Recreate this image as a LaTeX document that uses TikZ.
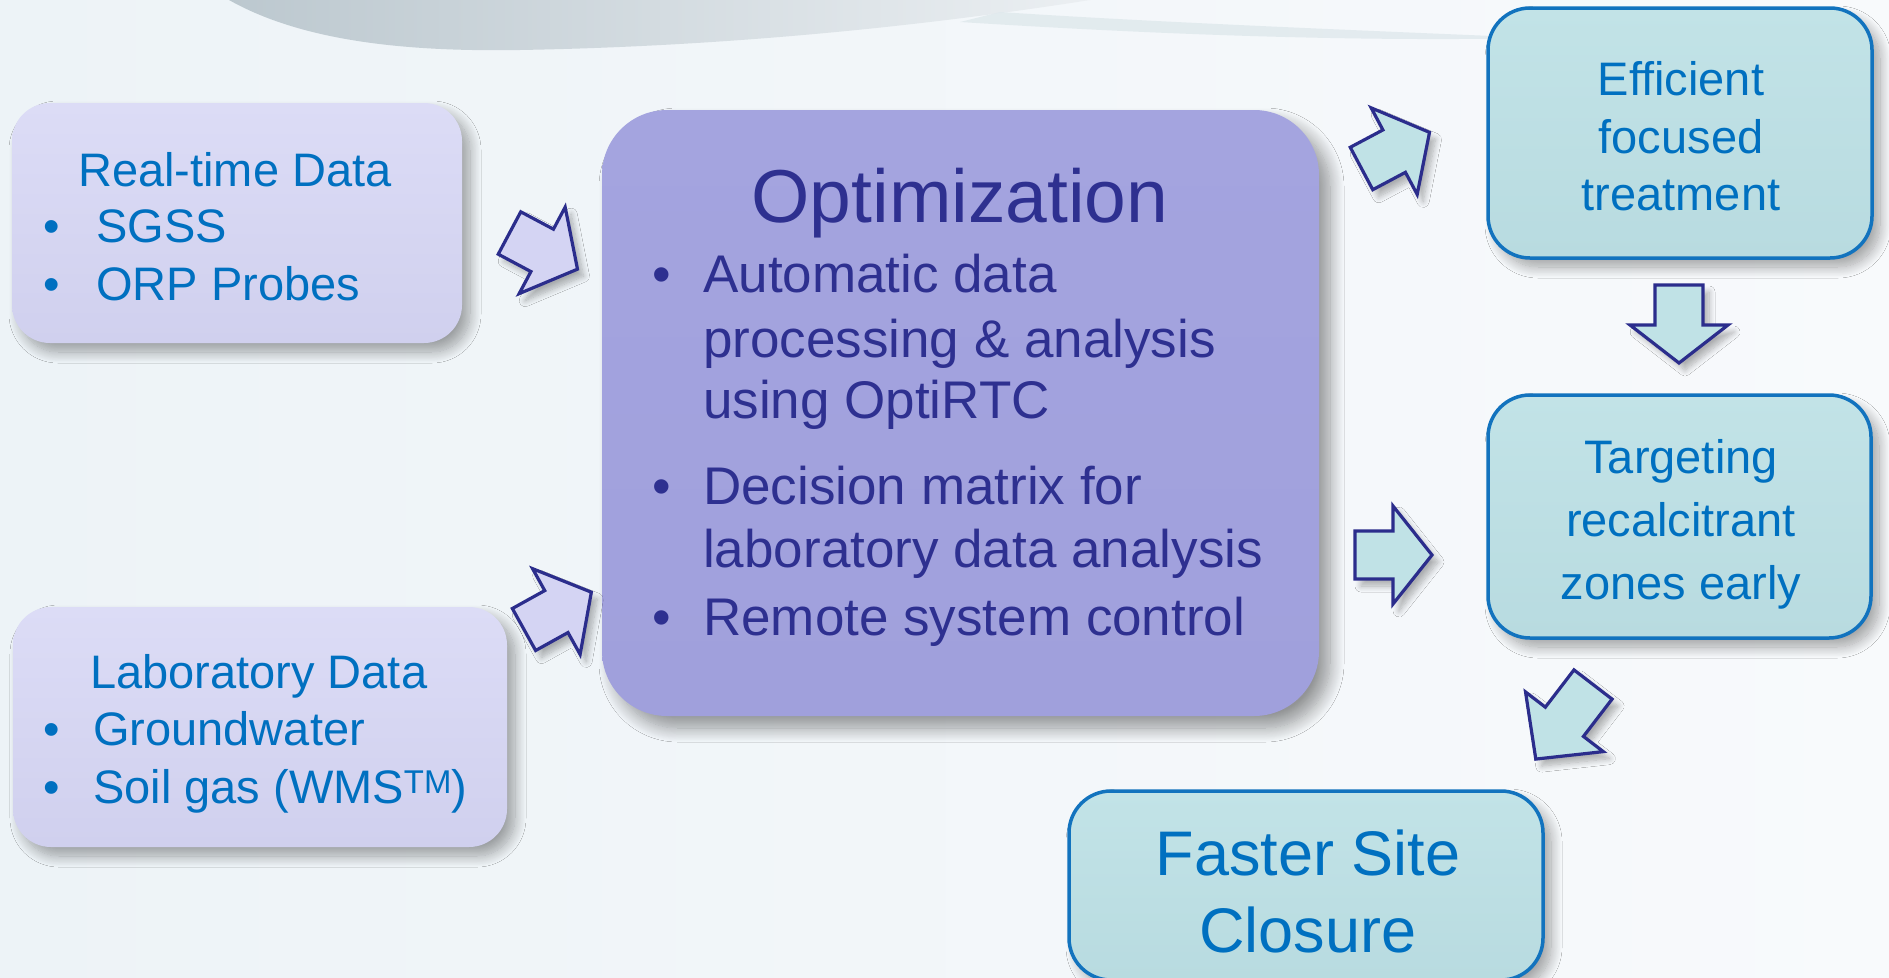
\documentclass[tikz,border=0pt]{standalone}
\usepackage{fontspec}
\setmainfont{Liberation Sans}
\usetikzlibrary{shadows.blur}
\definecolor{bgl}{HTML}{EDF3F7}
\definecolor{bgr}{HTML}{F8FAFC}
\definecolor{lav}{HTML}{D0D0EE}
\definecolor{lavtop}{HTML}{DCDCF6}
\definecolor{optfill}{HTML}{A4A4DF}
\definecolor{optbot}{HTML}{A0A0DC}
\definecolor{tealf}{HTML}{B8DBE0}
\definecolor{tealtop}{HTML}{C2E3E7}
\definecolor{tealborder}{HTML}{1273BE}
\definecolor{txtblue}{HTML}{0070C0}
\definecolor{navy}{HTML}{2E3090}
\definecolor{arrnavy}{HTML}{2B2D8C}
\definecolor{arrlav}{HTML}{D4D4F3}
\definecolor{arrteal}{HTML}{C0E2E6}
\definecolor{swa}{HTML}{BCC8CF}
\definecolor{swb}{HTML}{EBEFF2}
\definecolor{band}{HTML}{E0E9ED}
\tikzset{
  box/.style={rectangle, inner sep=0pt,
    blur shadow={shadow xshift=8pt, shadow yshift=-9pt, shadow blur radius=11pt, shadow opacity=35, shadow blur steps=16}},
  lbox/.style={box, top color=lavtop, bottom color=lav, rounded corners=38pt},
  obox/.style={rectangle, inner sep=0pt, top color=optfill, bottom color=optbot, rounded corners=65pt,
    blur shadow={shadow xshift=11pt, shadow yshift=-12pt, shadow blur radius=14pt, shadow opacity=40, shadow blur steps=16}},
  rbox/.style={box, top color=tealtop, bottom color=tealf, draw=tealborder, line width=3.5pt, rounded corners=42pt},
  bltxt/.style={text=txtblue, font=\fontsize{47}{56}\selectfont, inner sep=0pt},
  nvtxt/.style={text=navy, font=\fontsize{53}{62}\selectfont, inner sep=0pt},
  arrowsty/.style={draw=arrnavy, line width=3.2pt, line join=miter,
    blur shadow={shadow xshift=6pt, shadow yshift=-7pt, shadow blur radius=6pt, shadow opacity=30, shadow blur steps=10}},
}
% #1 x, #2 y (tail centre), #3 angle, #4 shaft length, #5 total length, #6 fill
\newcommand\blockarr[6]{%
  \draw[arrowsty, fill=#6, shift={(#1,#2)}, rotate=#3]
    (0,-24) -- (#4,-24) -- (#4,-49) -- (#5,0) -- (#4,49) -- (#4,24) -- (0,24) -- cycle;}
\begin{document}
\begin{tikzpicture}[x=1pt, y=-1pt]
\useasboundingbox (0,0) rectangle (1889,977);
% background
\shade[left color=bgl, right color=bgr] (0,0) rectangle (1889,977);
% decorative swoosh at the top
\shade[left color=swa, right color=swb]
  (229,0) .. controls (300,40) and (400,52) .. (520,50)
  .. controls (750,46) and (950,22) .. (1090,0) -- cycle;
\fill[band, opacity=0.85]
  (960,22) .. controls (1150,34) and (1350,42) .. (1540,38)
  .. controls (1350,30) and (1150,22) .. (1000,12) -- cycle;

% boxes
\node[lbox, minimum width=450pt, minimum height=240pt] (rt) at (237,223) {};
\node[lbox, minimum width=494pt, minimum height=240pt] (lab) at (260,727) {};
\node[obox, minimum width=717pt, minimum height=606pt] (opt) at (960.5,413) {};
\node[rbox, minimum width=384pt, minimum height=250pt] (eff) at (1680,133) {};
\node[rbox, minimum width=383pt, minimum height=243pt] (tgt) at (1679.5,516.5) {};
\node[rbox, minimum width=474pt, minimum height=189pt] (fsc) at (1306,885.5) {};

% real-time data
\node[bltxt, anchor=base west] (rtt) at (78,186) {Real-time Data};
\node[bltxt, anchor=base] (rtb1) at (52,242) {•};
\node[bltxt, anchor=base west] (rti1) at (96,242) {SGSS};
\node[bltxt, anchor=base] (rtb2) at (52,300) {•};
\node[bltxt, anchor=base west] (rti2) at (96,300) {ORP Probes};

% laboratory data
\node[bltxt, anchor=base west] (labt) at (90,688) {Laboratory Data};
\node[bltxt, anchor=base] (labb1) at (52,745) {•};
\node[bltxt, anchor=base west] (labi1) at (93,745) {Groundwater};
\node[bltxt, anchor=base] (labb2) at (52,803) {•};
\node[bltxt, anchor=base west] (labi2) at (93,803) {Soil gas (WMS\textsuperscript{TM})};

% optimization
\node[text=navy, font=\fontsize{75}{88}\selectfont, inner sep=0pt, anchor=base] (optt) at (960,222) {Optimization};
\node[nvtxt, anchor=base] (ob1) at (662,292) {•};
\node[nvtxt, anchor=base west] (oi1a) at (703,292) {Automatic data};
\node[nvtxt, anchor=base west] (oi1b) at (703,357) {processing \& analysis};
\node[nvtxt, anchor=base west] (oi1c) at (703,418) {using OptiRTC};
\node[nvtxt, anchor=base] (ob2) at (662,504) {•};
\node[nvtxt, anchor=base west] (oi2a) at (703,504) {Decision matrix for};
\node[nvtxt, anchor=base west] (oi2b) at (703,567) {laboratory data analysis};
\node[nvtxt, anchor=base] (ob3) at (662,635) {•};
\node[nvtxt, anchor=base west] (oi3) at (703,635) {Remote system control};

% right boxes
\node[bltxt, anchor=base] (eff1) at (1681,95) {Efficient};
\node[bltxt, anchor=base] (eff2) at (1681,153) {focused};
\node[bltxt, anchor=base] (eff3) at (1681,210) {treatment};
\node[bltxt, anchor=base] (tgt1) at (1681,473) {Targeting};
\node[bltxt, anchor=base] (tgt2) at (1681,536) {recalcitrant};
\node[bltxt, anchor=base] (tgt3) at (1681,599) {zones early};
\node[text=txtblue, font=\fontsize{63}{74}\selectfont, inner sep=0pt, anchor=base] (fsc1) at (1308,875) {Faster Site};
\node[text=txtblue, font=\fontsize{63}{74}\selectfont, inner sep=0pt, anchor=base] (fsc2) at (1308,952) {Closure};

% block arrows
\blockarr{509.5}{233}{-28}{37}{77}{arrlav}
\blockarr{524}{629.5}{29}{37}{77}{arrlav}
\blockarr{1361.5}{168.5}{28}{37}{77}{arrteal}
\blockarr{1355}{555}{0}{38}{77}{arrteal}
\blockarr{1679}{285}{-90}{40}{78}{arrteal}
\blockarr{1593}{684.5}{-127.5}{47}{94}{arrteal}
\end{tikzpicture}
\end{document}
